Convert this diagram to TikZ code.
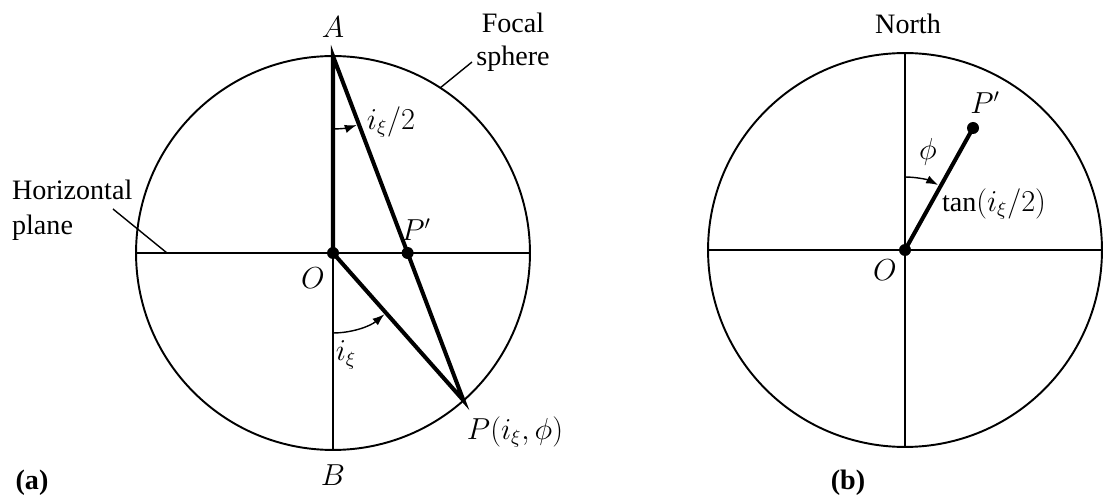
\documentclass[tikz,border=0pt]{standalone}
\usepackage{fontspec}
\setmainfont{Liberation Serif}
\usetikzlibrary{arrows.meta,positioning,calc}
\tikzset{
  sphere/.style={line width=1.1pt},
  axis/.style={line width=0.8pt},
  ray/.style={line width=2.3pt},
  leader/.style={line width=0.8pt},
  angarrow/.style={-{Latex[length=2.4mm,width=1.7mm]}, line width=0.8pt},
  dot/.style={circle, fill=black, inner sep=0pt, minimum size=2.4mm},
  lbl/.style={font=\fontsize{16}{19}\selectfont, inner sep=1pt}
}

\begin{document}
\begin{tikzpicture}[x=0.02cm, y=0.02cm]
  \useasboundingbox (0,0) rectangle (1104,500);

  % (a) focal sphere
  \coordinate (Oa) at (333,247);
  \coordinate (Aa) at (333,444);
  \coordinate (Ba) at (333,50);
  \coordinate (Wa) at (136,247);
  \coordinate (Ea) at (530,247);
  \coordinate (Pa) at ($(Oa)+(-48.5:3.94cm)$);
  \coordinate (Ppa) at (intersection of Aa--Pa and Wa--Ea);
  \draw[sphere] (Oa) circle[radius=3.94cm];
  \draw[axis] (Wa) -- (Ea);
  \draw[axis] (Oa) -- (Ba);
  \draw[ray] (Oa) -- (Aa) -- (Pa) -- cycle;
  \node[dot] (dOa) at (Oa) {};
  \node[dot] (dPpa) at (Ppa) {};
  \draw[angarrow] ($(Aa)+(-90:1.46cm)$) arc[start angle=-90, end angle=-71, radius=1.46cm];
  \draw[angarrow] ($(Oa)+(-90:1.6cm)$) arc[start angle=-90, end angle=-50, radius=1.6cm];

  \node[lbl] (lA) at (333,473) {$A$};
  \node[lbl] (lB) at (333,25) {$B$};
  \node[lbl] (lO) at (313,222) {$O$};
  \node[lbl] (lPp) at (416,270) {$P'$};
  \node[lbl] (lhalf) at (391,378) {$i_\xi/2$};
  \node[lbl] (li) at (346,145) {$i_\xi$};
  \node[lbl] (lP) at (515,68) {$P(i_\xi,\phi)$};
  \node[lbl, align=center] (lfs) at (513,458) {Focal\\sphere};
  \node[lbl, align=left, anchor=west, font=\fontsize{16}{20}\selectfont] (lhp) at (10,290) {Horizontal\\plane};
  \coordinate (fsend) at (472,438);
  \coordinate (hpstart) at (113,291);
  \coordinate (hpend) at (167,247);
  \draw[leader] ($(Oa)+(57:3.94cm)$) -- (fsend);
  \draw[leader] (hpstart) -- (hpend);
  \node[lbl, font=\fontsize{16}{19}\selectfont\bfseries] (la) at (32,17) {(a)};

  % (b) projection
  \coordinate (Ob) at (905,250);
  \coordinate (Nb) at (905,447);
  \coordinate (Sb) at (905,53);
  \coordinate (Wb) at (708,250);
  \coordinate (Eb) at (1102,250);
  \coordinate (Ppb) at (973,372);
  \draw[sphere] (Ob) circle[radius=3.94cm];
  \draw[axis] (Wb) -- (Eb);
  \draw[axis] (Nb) -- (Sb);
  \draw[ray] (Ob) -- (Ppb);
  \node[dot] (dOb) at (Ob) {};
  \node[dot] (dPpb) at (Ppb) {};
  \draw[angarrow] ($(Ob)+(90:1.46cm)$) arc[start angle=90, end angle=63, radius=1.46cm];

  \node[lbl] (lN) at (908,476) {North};
  \node[lbl] (lOb) at (885,230) {$O$};
  \node[lbl] (lPpb) at (985,397) {$P'$};
  \node[lbl] (lphi) at (928,348) {$\phi$};
  \node[lbl] (ltan) at (994,296) {$\tan(i_\xi/2)$};
  \node[lbl, font=\fontsize{16}{19}\selectfont\bfseries] (lb) at (848,17) {(b)};
\end{tikzpicture}
\end{document}
